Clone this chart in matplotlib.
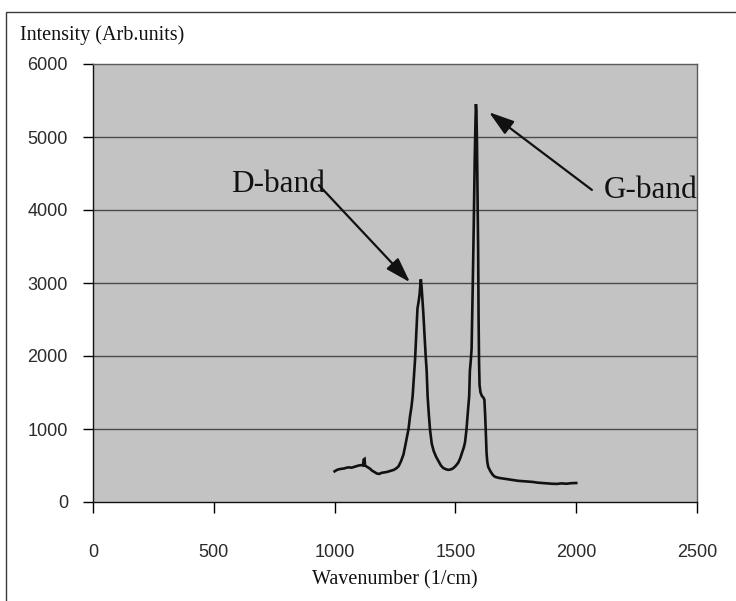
import matplotlib
matplotlib.use("Agg")
import matplotlib.pyplot as plt
from matplotlib.patches import Rectangle, FancyArrowPatch

# Raman spectrum (wavenumber in 1/cm, intensity in arbitrary units)
wavenumber = [
    1000, 1010, 1020, 1030, 1040, 1050, 1060, 1070, 1080, 1090,
    1100, 1110, 1118, 1120, 1124, 1126, 1135, 1145, 1155, 1165,
    1175, 1185, 1195, 1205, 1215, 1225, 1235, 1245, 1255, 1265,
    1275, 1285, 1293, 1300, 1306, 1312, 1318, 1323, 1328, 1333,
    1338, 1343, 1348, 1352, 1355, 1357, 1360, 1363, 1367, 1372,
    1377, 1381, 1385, 1390, 1395, 1402, 1410, 1420, 1430, 1440,
    1450, 1460, 1470, 1480, 1490, 1500, 1505, 1512, 1520, 1528,
    1535, 1540, 1546, 1552, 1557, 1560, 1564, 1567, 1572, 1576,
    1580, 1583, 1585, 1587, 1589, 1591, 1594, 1596, 1598, 1600,
    1604, 1610, 1616, 1620, 1623, 1625, 1627, 1629, 1632, 1636,
    1645, 1655, 1664, 1680, 1700, 1720, 1740, 1760, 1780, 1800,
    1820, 1840, 1860, 1880, 1900, 1920, 1940, 1960, 1980, 2000,
]
intensity = [
    420, 440, 450, 455, 460, 470, 475, 470, 480, 490,
    500, 505, 500, 580, 590, 500, 480, 460, 430, 410,
    390, 385, 400, 405, 410, 420, 430, 440, 460, 490,
    560, 650, 780, 900, 1000, 1170, 1300, 1450, 1700, 1950,
    2300, 2650, 2750, 2850, 2980, 3050, 2950, 2800, 2600, 2300,
    2000, 1800, 1450, 1200, 990, 800, 700, 620, 560, 500,
    465, 450, 440, 445, 460, 490, 510, 540, 600, 680,
    750, 820, 1000, 1250, 1450, 1800, 1950, 2100, 3000, 3800,
    4700, 5200, 5450, 5350, 5000, 4400, 3500, 2500, 1900, 1600,
    1500, 1450, 1430, 1400, 1200, 1030, 850, 670, 550, 480,
    420, 370, 345, 330, 320, 310, 300, 290, 285, 280,
    275, 265, 260, 255, 250, 248, 255, 250, 258, 260,
]

x_ticks = [0, 500, 1000, 1500, 2000, 2500]
y_ticks = [0, 1000, 2000, 3000, 4000, 5000, 6000]

# Band labels: text, text anchor, arrow tip, arrow tail
d_band = ("D-band", (960, 4250), (1312, 3010), (935, 4340))
g_band = ("G-band", (2115, 4165), (1639, 5340), (2065, 4275))

SERIF = "Liberation Serif"
SANS = "Liberation Sans"

W, H = 736, 601
fig = plt.figure(figsize=(W / 100, H / 100), dpi=100)
fig.patch.set_facecolor("white")

# chart frame
fig.patches.append(Rectangle((6 / W, -0.05), 1.2, 1 - 12 / H + 0.05,
                             transform=fig.transFigure, fill=False,
                             edgecolor="#3a3a3a", linewidth=1.0))

ax = fig.add_axes([93 / W, 1 - 502 / H, (697 - 93) / W, (502 - 64) / H])
ax.set_facecolor("#c3c3c3")
ax.set_xlim(0, 2500)
ax.set_ylim(0, 6000)

for y in y_ticks[1:-1]:
    ax.axhline(y, color="#4a4a4a", linewidth=1.0, zorder=1)

ax.plot(wavenumber, intensity, color="#111111", linewidth=1.9,
        solid_joinstyle="miter", zorder=3)

ax.set_xticks(x_ticks)
ax.set_yticks(y_ticks)
ax.tick_params(axis="x", direction="out", length=8, width=1.0, pad=22,
               labelsize=13, labelcolor="#2a2a2a")
ax.tick_params(axis="y", direction="out", length=7, width=1.0, pad=11,
               labelsize=13, labelcolor="#2a2a2a")
for lab in ax.get_xticklabels() + ax.get_yticklabels():
    lab.set_fontfamily(SANS)

ax.spines["left"].set_color("#111111")
ax.spines["bottom"].set_color("#111111")
ax.spines["top"].set_color("#5a5a5a")
ax.spines["right"].set_color("#5a5a5a")
for s in ax.spines.values():
    s.set_linewidth(1.0)

fig.text(20 / W, 1 - 35 / H, "Intensity (Arb.units)", family=SERIF,
         fontsize=14.5, ha="left", va="center", color="#111111")
fig.text(395 / W, 1 - 580 / H, "Wavenumber (1/cm)", family=SERIF,
         fontsize=14.5, ha="center", va="center", color="#111111")


def band(label, anchor, tip, tail, ha):
    arrow = FancyArrowPatch(tail, tip, arrowstyle="-|>,head_length=1.1,head_width=0.35",
                            mutation_scale=14, color="#111111", linewidth=1.6,
                            shrinkA=0, shrinkB=0, zorder=4)
    ax.add_patch(arrow)
    ax.text(anchor[0], anchor[1], label, family=SERIF, fontsize=22.5, ha=ha,
            va="baseline", color="#111111", zorder=5)


band(*d_band, ha="right")
band(*g_band, ha="left")

fig.savefig("out.png", dpi=100)
